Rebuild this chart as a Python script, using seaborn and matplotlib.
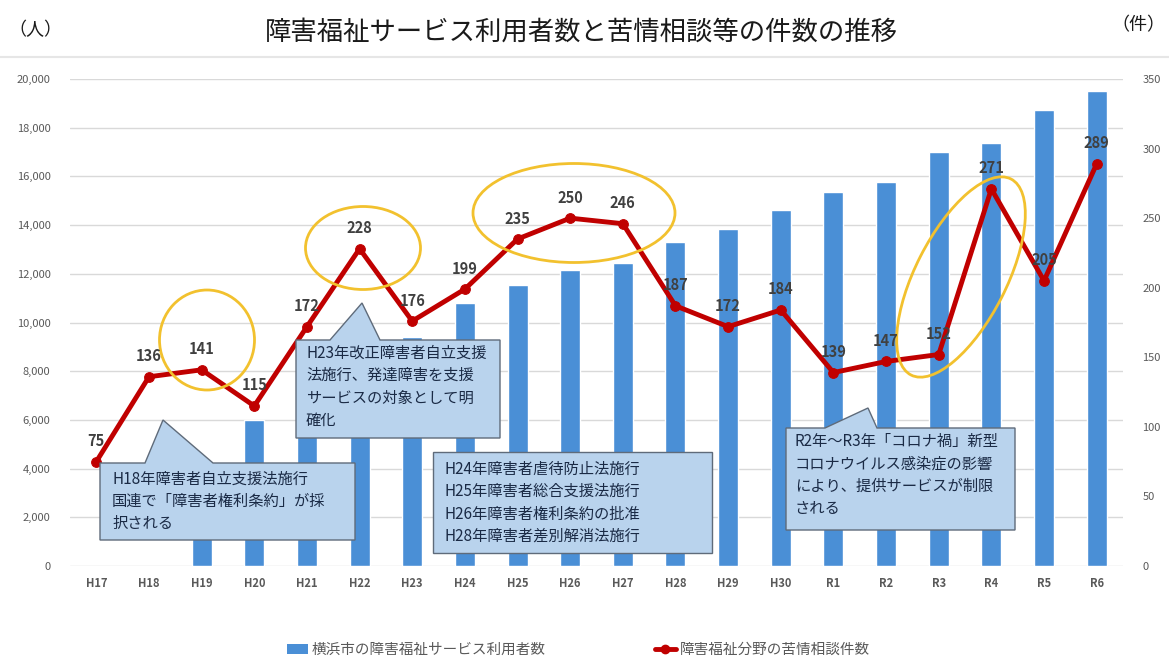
import numpy as np
import pandas as pd
import matplotlib.pyplot as plt
import matplotlib.transforms as mtransforms
from matplotlib.patches import Ellipse, Polygon, Patch
from matplotlib.lines import Line2D
import seaborn as sns

# データ
years = ["H17", "H18", "H19", "H20", "H21", "H22", "H23", "H24", "H25", "H26",
         "H27", "H28", "H29", "H30", "R1", "R2", "R3", "R4", "R5", "R6"]
users = [np.nan, np.nan, 4300, 6000, 7100, 8200, 9400, 10800, 11550, 12150,
         12450, 13300, 13850, 14620, 15360, 15780, 17000, 17380, 18730, 19500]
complaints = [75, 136, 141, 115, 172, 228, 176, 199, 235, 250,
              246, 187, 172, 184, 139, 147, 152, 271, 205, 289]

bar_label = "横浜市の障害福祉サービス利用者数"
line_label = "障害福祉分野の苦情相談件数"
title = "障害福祉サービス利用者数と苦情相談等の件数の推移"

df = pd.DataFrame({"year": years, "users": users, "complaints": complaints,
                   "pos": np.arange(len(years))})

sns.set_style("white")
plt.rcParams['font.family'] = ['Noto Sans CJK JP', 'DejaVu Sans']

fig = plt.figure(figsize=(11.69, 6.6), dpi=100)
ax = fig.add_axes([70 / 1169, 1 - 566 / 660, 1053 / 1169, 487 / 660])

bar_color = "#4a8fd6"
red = "#c00000"
gold = "#f2c12e"
grey = "#595959"

sns.barplot(data=df, x="year", y="users", order=years, color=bar_color,
            width=0.38, saturation=1, ax=ax, zorder=2)
ax.set_ylim(0, 20000)
ax.set_xlim(-0.5, len(years) - 0.5)
ax.set_yticks(range(0, 20001, 2000))
ax.set_yticklabels([f"{v:,}" for v in range(0, 20001, 2000)])
ax.grid(axis="y", color="#d9d9d9", linewidth=1, zorder=0)
ax.set_axisbelow(True)
ax.set_xlabel("")
ax.set_ylabel("")
ax.tick_params(axis="y", length=0, pad=14, labelsize=8, labelcolor=grey)
ax.tick_params(axis="x", length=0, pad=8, labelsize=8, labelcolor=grey)
for lab in ax.get_xticklabels():
    lab.set_fontweight("bold")
for s in ax.spines.values():
    s.set_visible(False)

ax2 = ax.twinx()
sns.lineplot(data=df, x="pos", y="complaints", color=red, linewidth=3.5,
             marker="o", markersize=7, markeredgecolor=red, ax=ax2, zorder=3)
ax2.set_ylim(0, 350)
ax2.set_xlim(-0.5, len(years) - 0.5)
ax2.set_yticks(range(0, 351, 50))
ax2.set_ylabel("")
ax2.set_xlabel("")
ax2.tick_params(axis="y", length=0, pad=14, labelsize=8, labelcolor=grey)
for s in ax2.spines.values():
    s.set_visible(False)

for x, v in zip(df["pos"], complaints):
    ax2.annotate(str(v), (x, v), xytext=(0, 9), textcoords="offset points",
                 ha="center", va="bottom", fontsize=10.5, fontweight="bold",
                 color="#404040", zorder=7)

# 画像ピクセル座標（左上原点）
px = mtransforms.Affine2D().scale(1 / 100, -1 / 100).translate(0, 6.6) + fig.dpi_scale_trans

fig.text(581 / 1169, 1 - 32 / 660, title, ha="center", va="center",
         fontsize=19, color="#1a1a1a")
fig.text(8 / 1169, 1 - 30 / 660, "（人）", ha="left", va="center", fontsize=13, color="#1a1a1a")
fig.text(1165 / 1169, 1 - 25 / 660, "（件）", ha="right", va="center", fontsize=13, color="#1a1a1a")
fig.add_artist(Line2D([0, 1169], [57, 57], transform=px, color="#e6e6e6", linewidth=1.5))

# 黄色い楕円
ellipses = [((207, 340), 95, 100, 0), ((363, 248), 115, 83, 0),
            ((574, 213), 202, 99, 0), ((961, 277), 220, 91, -63)]
for (cx, cy), w, h, a in ellipses:
    ax2.add_patch(Ellipse((cx, cy), w, h, angle=a, transform=px, fill=False,
                          edgecolor=gold, linewidth=2, clip_on=False, zorder=6))

# 吹き出し
callouts = [
    ((100, 463, 355, 540), (145, 163, 420, 213),
     "H18年障害者自立支援法施行\n国連で「障害者権利条約」が採\n択される", (112, 471)),
    ((296, 340, 500, 438), (330, 362, 303, 380),
     "H23年改正障害者自立支援\n法施行、発達障害を支援\nサービスの対象として明\n確化", (306, 345)),
    ((433, 452, 712, 553), None,
     "H24年障害者虐待防止法施行\nH25年障害者総合支援法施行\nH26年障害者権利条約の批准\nH28年障害者差別解消法施行", (444, 461)),
    ((786, 428, 1015, 530), (825, 868, 408, 877),
     "R2年～R3年「コロナ禍」新型\nコロナウイルス感染症の影響\nにより、提供サービスが制限\nされる", (795, 433)),
]
for (x0, y0, x1, y1), ptr, txt, (tx, ty) in callouts:
    if ptr:
        b0, tipx, tipy, b1 = ptr
        verts = [(x0, y0), (b0, y0), (tipx, tipy), (b1, y0), (x1, y0), (x1, y1), (x0, y1)]
    else:
        verts = [(x0, y0), (x1, y0), (x1, y1), (x0, y1)]
    ax2.add_patch(Polygon(verts, closed=True, transform=px, facecolor="#b9d3ed",
                          edgecolor="#5f6b7a", linewidth=1, clip_on=False, zorder=5))
    ax2.text(tx, ty, txt, transform=px, ha="left", va="top", fontsize=11,
             color="#1a2a45", linespacing=1.4, zorder=6, clip_on=False)

# 凡例
handles = [Patch(facecolor=bar_color, edgecolor="none"),
           Line2D([0], [0], color=red, linewidth=3.5, marker="o", markersize=6)]
fig.legend(handles, [bar_label, line_label], loc="center", ncol=2,
           bbox_to_anchor=(0.495, 1 - 650 / 660), frameon=False, fontsize=10.5,
           labelcolor=grey, handlelength=1.4, handletextpad=0.3, columnspacing=7.5)

plt.savefig("out.png", dpi=100)
